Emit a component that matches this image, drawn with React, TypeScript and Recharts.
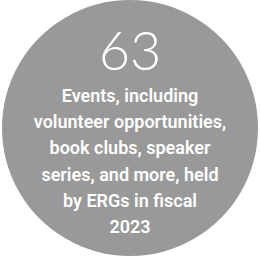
import React from "react";
import { PieChart, Pie, Cell, Label } from "recharts";

const segments = [{ name: "circle", value: 1 }];
const headline = "63";
const captionLines = [
  "Events, including",
  "volunteer opportunities,",
  "book clubs, speaker",
  "series, and more, held",
  "by ERGs in fiscal",
  "2023",
];

const CX = 130;
const CY = 128;

const renderText = () => (
  <g>
    <text x={CX} y={70} textAnchor="middle" fill="#ffffff" fontFamily="Lato" fontWeight={300} fontSize={54}>
      {headline}
    </text>
    {captionLines.map((line, i) => (
      <text
        key={i}
        x={CX}
        y={102 + i * 26.2}
        textAnchor="middle"
        fill="#ffffff"
        fontFamily="Roboto"
        fontWeight={600}
        fontSize={18}
      >
        {line}
      </text>
    ))}
  </g>
);

export default function App() {
  return (
    <div style={{ position: "absolute", left: 0, top: 0 }}>
      <PieChart width={261} height={257} margin={{ top: 0, right: 0, bottom: 0, left: 0 }}>
        <Pie
          data={segments}
          dataKey="value"
          cx={CX}
          cy={CY}
          innerRadius={0}
          outerRadius={128}
          stroke="none"
          isAnimationActive={false}
        >
          {segments.map((s) => (
            <Cell key={s.name} fill="#999999" />
          ))}
          <Label content={renderText} position="center" />
        </Pie>
      </PieChart>
    </div>
  );
}
